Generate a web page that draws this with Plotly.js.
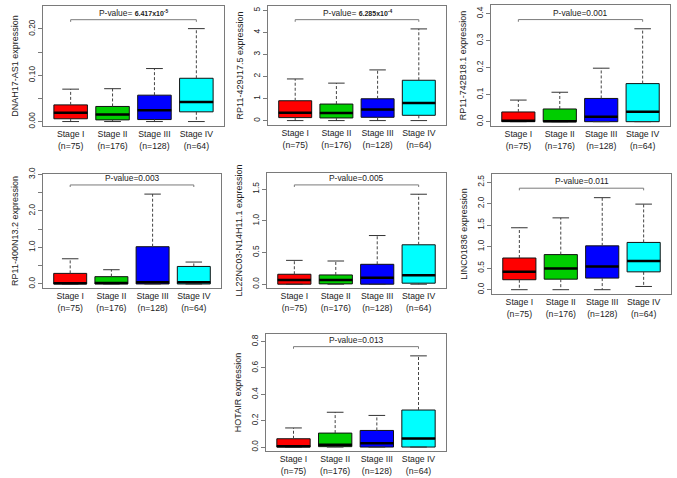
<!DOCTYPE html>
<html><head><meta charset="utf-8">
<script src="https://cdn.plot.ly/plotly-3.0.1.min.js"></script>
<style>html,body{margin:0;padding:0;background:#fff}</style>
</head><body><div id="chart" style="width:677px;height:478px"></div>
<script>
// ---------- data ----------
const stages = ['Stage I', 'Stage II', 'Stage III', 'Stage IV'];
const counts = [75, 176, 128, 64];
const genes = ['DNAH17-AS1', 'RP11-429J17.5', 'RP11-742B18.1', 'RP11-400N13.2', 'LL22NC03-N14H11.1', 'LINC01836', 'HOTAIR'];
const pLabels = [
  'P-value= <span style="font-size:7px"><b>6.417x10<sup>-5</sup></b></span>',
  'P-value= <span style="font-size:7px"><b>6.285x10<sup>-4</sup></b></span>',
  'P-value=0.001', 'P-value=0.003', 'P-value=0.005', 'P-value=0.011', 'P-value=0.013'
];
const lowerWhisker = [
  [0, 0, 0, 0], [0, 0, 0, 0], [0, 0, 0, 0], [0, 0, 0, 0],
  [0, 0, 0, 0], [0, 0, 0, 0.075], [0, 0, 0, 0]
];
const q1 = [
  [0.006, 0.0036, 0.0043, 0.021],
  [0.135, 0.12, 0.15, 0.24],
  [0, 0, 0, 0],
  [0, 0, 0, 0],
  [0, 0.005, 0, 0.016],
  [0.232, 0.245, 0.27, 0.415],
  [0, 0.003, 0, 0]
];
const median = [
  [0.0188, 0.015, 0.0246, 0.042],
  [0.36, 0.345, 0.5, 0.8],
  [0.003, 0.002, 0.018, 0.037],
  [0.018, 0.025, 0.045, 0.048],
  [0.068, 0.068, 0.1, 0.141],
  [0.415, 0.495, 0.54, 0.67],
  [0.006, 0.018, 0.029, 0.064]
];
const q3 = [
  [0.036, 0.0326, 0.057, 0.0935],
  [0.9, 0.75, 0.99, 1.83],
  [0.036, 0.047, 0.086, 0.141],
  [0.29, 0.2, 1.02, 0.48],
  [0.157, 0.146, 0.314, 0.622],
  [0.737, 0.816, 1.02, 1.099],
  [0.063, 0.106, 0.126, 0.281]
];
const upperWhisker = [
  [0.070, 0.071, 0.1145, 0.2007],
  [1.89, 1.70, 2.3, 4.16],
  [0.08, 0.109, 0.198, 0.344],
  [0.69, 0.39, 2.46, 0.6],
  [0.376, 0.366, 0.768, 1.42],
  [1.44, 1.67, 2.14, 1.99],
  [0.145, 0.264, 0.24, 0.692]
];
const bracketLevel = [0.22, 4.58, 0.378, 2.71, 1.567, 2.36, 0.762];
const yTicks = [
  [0, 0.1, 0.2], [0, 1, 2, 3, 4, 5], [0, 0.1, 0.2, 0.3, 0.4],
  [0, 1, 2, 3], [0, 0.5, 1, 1.5], [0, 0.5, 1, 1.5, 2, 2.5],
  [0, 0.2, 0.4, 0.6, 0.8]
];
const yTickText = [
  ['0.00', '0.10', '0.20'], ['0', '1', '2', '3', '4', '5'],
  ['0.0', '0.1', '0.2', '0.3', '0.4'], ['0.0', '1.0', '2.0', '3.0'],
  ['0.0', '0.5', '1.0', '1.5'], ['0.0', '0.5', '1.0', '1.5', '2.0', '2.5'],
  ['0.0', '0.2', '0.4', '0.6', '0.8']
];
const yMinorTicks = [[0.05, 0.15], [], [], [0.5, 1.5, 2.5], [], [], []];

// ---------- style / layout ----------
const boxColors = ['#FF0000', '#00CD00', '#0000FF', '#00FFFF'];
const W = 677, H = 478;
// pixel frames [left, right, top, bottom]
const frames = [
  [43, 224, 6, 126], [268, 446, 6, 125], [491, 670, 5, 126],
  [43, 221, 174, 288], [267, 446, 173, 288], [492, 671, 174, 294],
  [266, 446, 334, 451]
];
const yRanges = [
  [-0.0096, 0.2496], [-0.2, 5.2], [-0.016, 0.432], [-0.11, 3.01],
  [-0.06, 1.755], [-0.1, 2.69], [-0.03, 0.858]
];
const FRAME = '#7a7a7a', TXT = '#222', FONT = 'Liberation Sans, Arial, sans-serif';

const data = [];
const layout = {
  width: W, height: H, margin: {l: 0, r: 0, t: 0, b: 0},
  paper_bgcolor: '#fff', plot_bgcolor: '#fff', showlegend: false,
  font: {family: FONT, color: TXT, size: 8},
  annotations: []
};

genes.forEach((g, p) => {
  const sfx = p === 0 ? '' : String(p + 1);
  const xa = 'x' + sfx, ya = 'y' + sfx;
  const pos = stages.map((_, i) => i + 1);
  // boxes
  stages.forEach((s, i) => {
    data.push({
      type: 'box', xaxis: xa, yaxis: ya, x: [pos[i]],
      q1: [q1[p][i]], median: [median[p][i]], q3: [q3[p][i]],
      lowerfence: [q1[p][i]], upperfence: [q3[p][i]],
      width: 0.8, whiskerwidth: 0, boxpoints: false,
      fillcolor: boxColors[i], line: {color: '#111', width: 1},
      hoverinfo: 'skip'
    });
  });
  // dashed whiskers, caps, medians
  const wx = [], wy = [], cx = [], cy = [], mx = [], my = [];
  pos.forEach((x, i) => {
    wx.push(x, x, null, x, x, null);
    wy.push(q3[p][i], upperWhisker[p][i], null, q1[p][i], lowerWhisker[p][i], null);
    cx.push(x - 0.2, x + 0.2, null, x - 0.2, x + 0.2, null);
    cy.push(upperWhisker[p][i], upperWhisker[p][i], null, lowerWhisker[p][i], lowerWhisker[p][i], null);
    mx.push(x - 0.4, x + 0.4, null);
    my.push(median[p][i], median[p][i], null);
  });
  data.push({type: 'scatter', mode: 'lines', xaxis: xa, yaxis: ya, x: wx, y: wy,
    line: {color: '#444', width: 1, dash: '3px,2px'}, hoverinfo: 'skip'});
  data.push({type: 'scatter', mode: 'lines', xaxis: xa, yaxis: ya, x: cx, y: cy,
    line: {color: '#333', width: 1}, hoverinfo: 'skip'});
  data.push({type: 'scatter', mode: 'lines', xaxis: xa, yaxis: ya, x: mx, y: my,
    line: {color: '#000', width: 2.5}, hoverinfo: 'skip'});
  // bracket
  const b = bracketLevel[p];
  const d = (yRanges[p][1] - yRanges[p][0]) * 0.018;
  data.push({type: 'scatter', mode: 'lines', xaxis: xa, yaxis: ya,
    x: [pos[0], pos[0], pos[3], pos[3]], y: [b - d, b, b, b - d],
    line: {color: FRAME, width: 1}, hoverinfo: 'skip'});
  layout.annotations.push({
    xref: xa, yref: ya, x: (pos[0] + pos[3]) / 2, y: b, yanchor: 'bottom',
    text: pLabels[p], showarrow: false, font: {size: 8.4, color: TXT}, yshift: 0
  });

  const f = frames[p];
  layout['xaxis' + sfx] = {
    domain: [f[0] / W, f[1] / W], anchor: ya, range: [0.34, 4.66],
    tickmode: 'array', tickvals: pos,
    ticktext: stages.map((s, i) => s + '<br>(n=' + counts[i] + ')'),
    ticks: '', showline: true, mirror: true, linecolor: FRAME, linewidth: 1,
    showgrid: false, zeroline: false, tickfont: {size: 8.7, color: TXT},
    automargin: false, fixedrange: true
  };
  const yax = {
    domain: [1 - f[3] / H, 1 - f[2] / H], anchor: xa, range: yRanges[p],
    tickmode: 'array', tickvals: yTicks[p], ticktext: yTickText[p],
    tickangle: -90, ticks: 'outside', ticklen: 4, tickcolor: FRAME,
    showline: true, mirror: true, linecolor: FRAME, linewidth: 1,
    showgrid: false, zeroline: false, tickfont: {size: 8.4, color: TXT},
    title: {text: g + ' expression', font: {size: 9, color: TXT}, standoff: 6},
    automargin: false, fixedrange: true
  };
  if (yMinorTicks[p].length) {
    yax.minor = {tickmode: 'array', tickvals: yMinorTicks[p], ticks: 'outside',
      ticklen: 4, tickcolor: FRAME, showgrid: false};
  }
  layout['yaxis' + sfx] = yax;
});

Plotly.newPlot('chart', data, layout, {staticPlot: true, displayModeBar: false});
</script>
</body></html>
